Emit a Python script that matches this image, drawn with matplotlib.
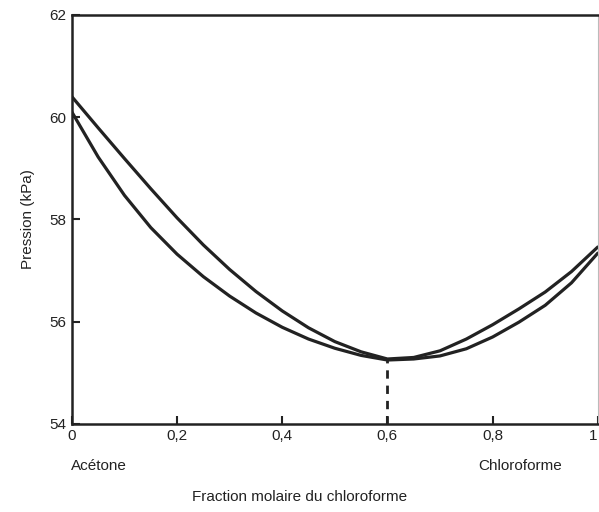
import matplotlib
matplotlib.use("Agg")
import matplotlib.pyplot as plt

# values (pressure in kPa vs mole fraction of chloroform)
x_frac = [0.0, 0.05, 0.10, 0.15, 0.20, 0.25, 0.30, 0.35, 0.40, 0.45, 0.50,
          0.55, 0.60, 0.65, 0.70, 0.75, 0.80, 0.85, 0.90, 0.95, 1.0]
p_upper = [60.40, 59.79, 59.19, 58.60, 58.03, 57.50, 57.02, 56.59, 56.21, 55.88, 55.61,
           55.41, 55.27, 55.30, 55.43, 55.66, 55.94, 56.25, 56.58, 56.98, 57.46]
p_lower = [60.10, 59.22, 58.47, 57.84, 57.32, 56.88, 56.50, 56.17, 55.89, 55.66, 55.48,
           55.34, 55.25, 55.27, 55.33, 55.47, 55.70, 55.99, 56.32, 56.76, 57.34]

x_azeo = 0.6
p_azeo = 55.25

x_ticks = [0, 0.2, 0.4, 0.6, 0.8, 1]
x_tick_labels = ["0", "0,2", "0,4", "0,6", "0,8", "1"]
y_ticks = [54, 56, 58, 60, 62]

plt.rcParams['font.family'] = ['Liberation Sans', 'DejaVu Sans']
ink = '#222222'

fig = plt.figure(figsize=(5.99, 5.12), dpi=100)
ax = fig.add_axes([0.120, 0.172, 0.878, 0.799])

ax.plot(x_frac, p_upper, color=ink, lw=2.3, solid_joinstyle='round', solid_capstyle='round')
ax.plot(x_frac, p_lower, color=ink, lw=2.3, solid_joinstyle='round', solid_capstyle='round')
ax.plot([x_azeo, x_azeo], [54, p_azeo], color=ink, lw=2.0, linestyle=(0, (3, 2.5)))

ax.set_xlim(0, 1)
ax.set_ylim(54, 62)
ax.set_xticks(x_ticks)
ax.set_xticklabels(x_tick_labels)
ax.set_yticks(y_ticks)
ax.tick_params(direction='in', length=6, width=1.5, labelsize=11, colors=ink, pad=4)
# last label sits at the figure edge, keep it inside
ax.get_xticklabels()[-1].set_horizontalalignment('right')

for s in ['left', 'top', 'bottom']:
    ax.spines[s].set_linewidth(1.8)
    ax.spines[s].set_color(ink)
ax.spines['right'].set_linewidth(0.8)
ax.spines['right'].set_color('#bbbbbb')

ax.set_ylabel("Pression (kPa)", fontsize=11, color=ink, labelpad=10)

fig.text(0.118, 0.09, "Acétone", fontsize=11, color=ink, ha='left', va='center')
fig.text(0.868, 0.09, "Chloroforme", fontsize=11, color=ink, ha='center', va='center')
fig.text(0.50, 0.03, "Fraction molaire du chloroforme", fontsize=11, color=ink, ha='center', va='center')

fig.savefig("out.png", dpi=100)
